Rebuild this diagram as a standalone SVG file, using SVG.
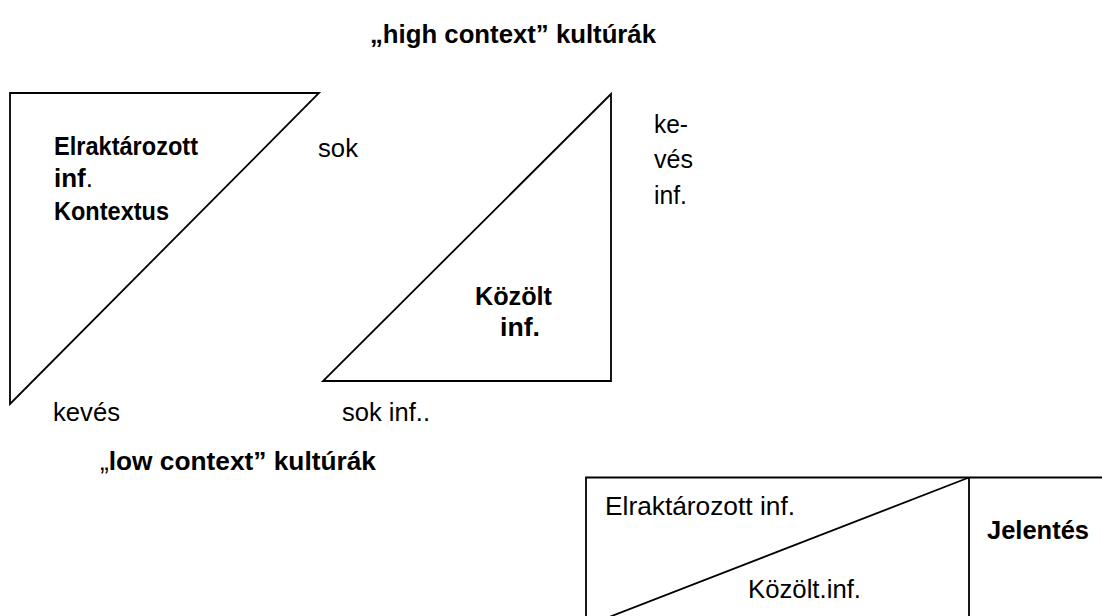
<svg xmlns="http://www.w3.org/2000/svg" width="1102" height="616" viewBox="0 0 1102 616">
<style>
text{font-family:"Liberation Sans",Arial,sans-serif;font-size:26px;fill:#000}
.b{font-weight:bold}
.shape{fill:#fff;stroke:#000;stroke-width:1.8}
.ln{fill:none;stroke:#000;stroke-width:1.8}
</style>
<rect width="1102" height="616" fill="#fff"/>
<g id="title-high"><text class="b" x="370" y="43" textLength="286" lengthAdjust="spacingAndGlyphs">„high context” kultúrák</text></g>
<g id="triangle-stored">
<polygon class="shape" points="10,93 319,93 10,404"/>
<text class="b" x="54" y="155" textLength="144" lengthAdjust="spacingAndGlyphs">Elraktározott</text>
<text x="54" y="187"><tspan class="b">inf</tspan>.</text>
<text class="b" x="54" y="220" textLength="115" lengthAdjust="spacingAndGlyphs">Kontextus</text>
</g>
<g id="label-sok"><text x="318" y="157" textLength="40" lengthAdjust="spacingAndGlyphs">sok</text></g>
<g id="triangle-communicated">
<polygon class="shape" points="611,94 323,381 611,381"/>
<text class="b" x="475" y="305" textLength="77" lengthAdjust="spacingAndGlyphs">Közölt</text>
<text class="b" x="500" y="336" textLength="40" lengthAdjust="spacingAndGlyphs">inf.</text>
</g>
<g id="label-keves-inf">
<text x="654" y="133" textLength="34" lengthAdjust="spacingAndGlyphs">ke-</text>
<text x="654" y="168" textLength="39" lengthAdjust="spacingAndGlyphs">vés</text>
<text x="654" y="204" textLength="33" lengthAdjust="spacingAndGlyphs">inf.</text>
</g>
<g id="label-keves"><text x="53" y="421" textLength="67" lengthAdjust="spacingAndGlyphs">kevés</text></g>
<g id="label-sok-inf"><text x="342" y="421" textLength="88" lengthAdjust="spacingAndGlyphs">sok inf..</text></g>
<g id="title-low"><text x="100" y="470" textLength="276" lengthAdjust="spacingAndGlyphs">„<tspan class="b">low context” kultúrák</tspan></text></g>
<g id="box">
<path class="ln" d="M586,620 V477.5 H1110 M969,477.5 V620"/>
<text x="605" y="515" textLength="190" lengthAdjust="spacingAndGlyphs">Elraktározott inf.</text>
<text x="748" y="598" textLength="113" lengthAdjust="spacingAndGlyphs">Közölt.inf.</text>
<text class="b" x="987" y="539" textLength="102" lengthAdjust="spacingAndGlyphs">Jelentés</text>
</g>
<g id="connectors"><line class="ln" x1="586" y1="626" x2="969" y2="477.5"/></g>
</svg>
